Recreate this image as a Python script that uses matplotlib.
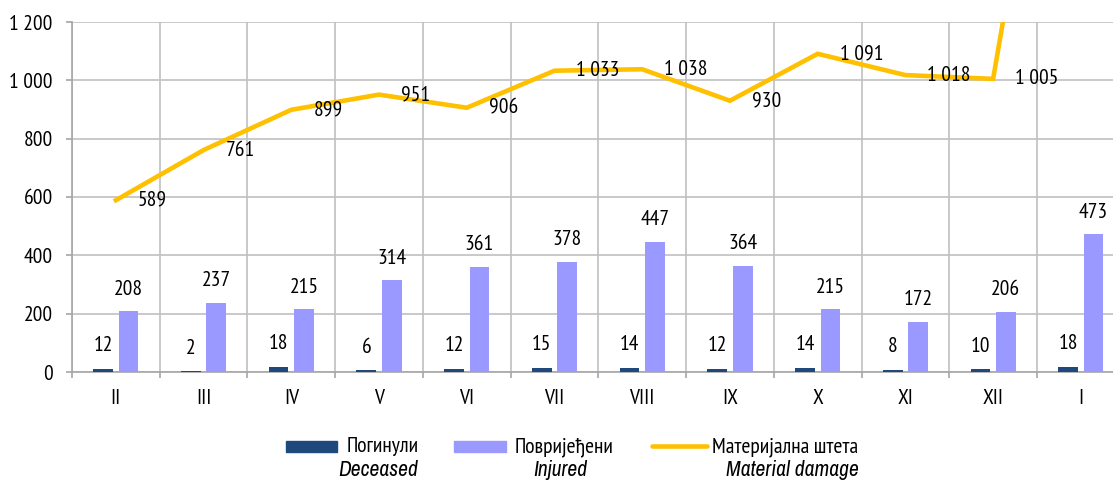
import matplotlib
matplotlib.use("Agg")
import matplotlib.pyplot as plt
import numpy as np
from matplotlib.patches import Rectangle
from matplotlib.lines import Line2D
from matplotlib.ticker import FuncFormatter

months = ["II", "III", "IV", "V", "VI", "VII", "VIII", "IX", "X", "XI", "XII", "I"]
deceased = [12, 2, 18, 6, 12, 15, 14, 12, 14, 8, 10, 18]
injured = [208, 237, 215, 314, 361, 378, 447, 364, 215, 172, 206, 473]
damage = [589, 761, 899, 951, 906, 1033, 1038, 930, 1091, 1018, 1005, 2750]
yticks = [0, 200, 400, 600, 800, 1000, 1200]

REG = ['PT Sans Narrow', 'Liberation Sans', 'DejaVu Sans']
ITA = ['Archivo Narrow', 'Liberation Sans', 'DejaVu Sans']
plt.rcParams['font.family'] = REG
FS = 15.5

navy = "#1F497D"
purple = "#9999FF"
gold = "#FFC000"
grid = "#C0C0C0"
axc = "#A6A6A6"

fig = plt.figure(figsize=(11.13, 4.82), dpi=100)
W, H = 1113, 482
ax = fig.add_axes([72 / W, 110 / H, 1052.7 / W, 350 / H])

x = np.arange(len(months))
bw = 0.225
off = 0.145
ax.bar(x - off, deceased, width=bw, color=navy, zorder=3)
ax.bar(x + off, injured, width=bw, color=purple, zorder=3)
ax.plot(x, damage, color=gold, lw=3.3, zorder=4, solid_joinstyle='miter')

for xi, v in zip(x, deceased):
    ax.annotate(f"{v}", (xi - off, v), xytext=(0, 23), textcoords='offset pixels',
                ha='center', va='center', fontsize=FS, zorder=5)
for xi, v in zip(x, injured):
    ax.annotate(f"{v}", (xi + off, v), xytext=(0, 22), textcoords='offset pixels',
                ha='center', va='center', fontsize=FS, zorder=5)

def fmt(v):
    return f"{v:,}".replace(",", " ")

for xi, v in zip(x, damage):
    ax.annotate(fmt(v), (xi, v), xytext=(22, 0), textcoords='offset pixels',
                ha='left', va='center', fontsize=FS, zorder=5, annotation_clip=True)

ax.set_xlim(-0.5, len(months) - 0.5)
ax.set_ylim(0, 1200)
ax.set_yticks(yticks)
ax.yaxis.set_major_formatter(FuncFormatter(lambda v, p: fmt(int(v))))
ax.set_xticks(x)
ax.set_xticklabels(months, fontsize=FS)
ax.set_xticks(np.arange(-0.5, len(months), 1.0), minor=True)
ax.tick_params(axis='x', which='major', length=0, pad=12)
ax.tick_params(axis='x', which='minor', length=4.3, color=axc, width=1.2)
ax.tick_params(axis='y', length=4.3, color=axc, width=1.2, labelsize=FS, pad=9.5)
ax.grid(axis='y', color=grid, lw=1.2, zorder=0)
ax.grid(axis='x', which='minor', color=grid, lw=1.2, zorder=0)
for s in ['top', 'right']:
    ax.spines[s].set_visible(False)
for s in ['left', 'bottom']:
    ax.spines[s].set_color(axc)
    ax.spines[s].set_linewidth(1.2)

# legend (manual)
def fx(px):
    return px / W
def fy(py):
    return 1 - py / H

fig.patches.append(Rectangle((fx(286), fy(452)), 51 / W, 11 / H, transform=fig.transFigure,
                             color=navy, figure=fig))
fig.patches.append(Rectangle((fx(454), fy(452)), 52 / W, 11 / H, transform=fig.transFigure,
                             color=purple, figure=fig))
fig.lines.append(Line2D([fx(652), fx(707)], [fy(446), fy(446)], transform=fig.transFigure,
                        color=gold, lw=3.3, figure=fig, solid_capstyle='round'))

fig.text(fx(383), fy(447), "Погинули", ha='center', va='center', fontsize=FS)
fig.text(fx(378), fy(470), "Deceased", ha='center', va='center', fontsize=FS,
         style='italic', family=ITA)
fig.text(fx(564), fy(447), "Повријеђени", ha='center', va='center', fontsize=FS)
fig.text(fx(560), fy(470), "Injured", ha='center', va='center', fontsize=FS,
         style='italic', family=ITA)
fig.text(fx(785), fy(447), "Материјална штета", ha='center', va='center', fontsize=FS)
fig.text(fx(792), fy(470), "Material damage", ha='center', va='center', fontsize=FS,
         style='italic', family=ITA)

fig.savefig("out.png", dpi=100)
